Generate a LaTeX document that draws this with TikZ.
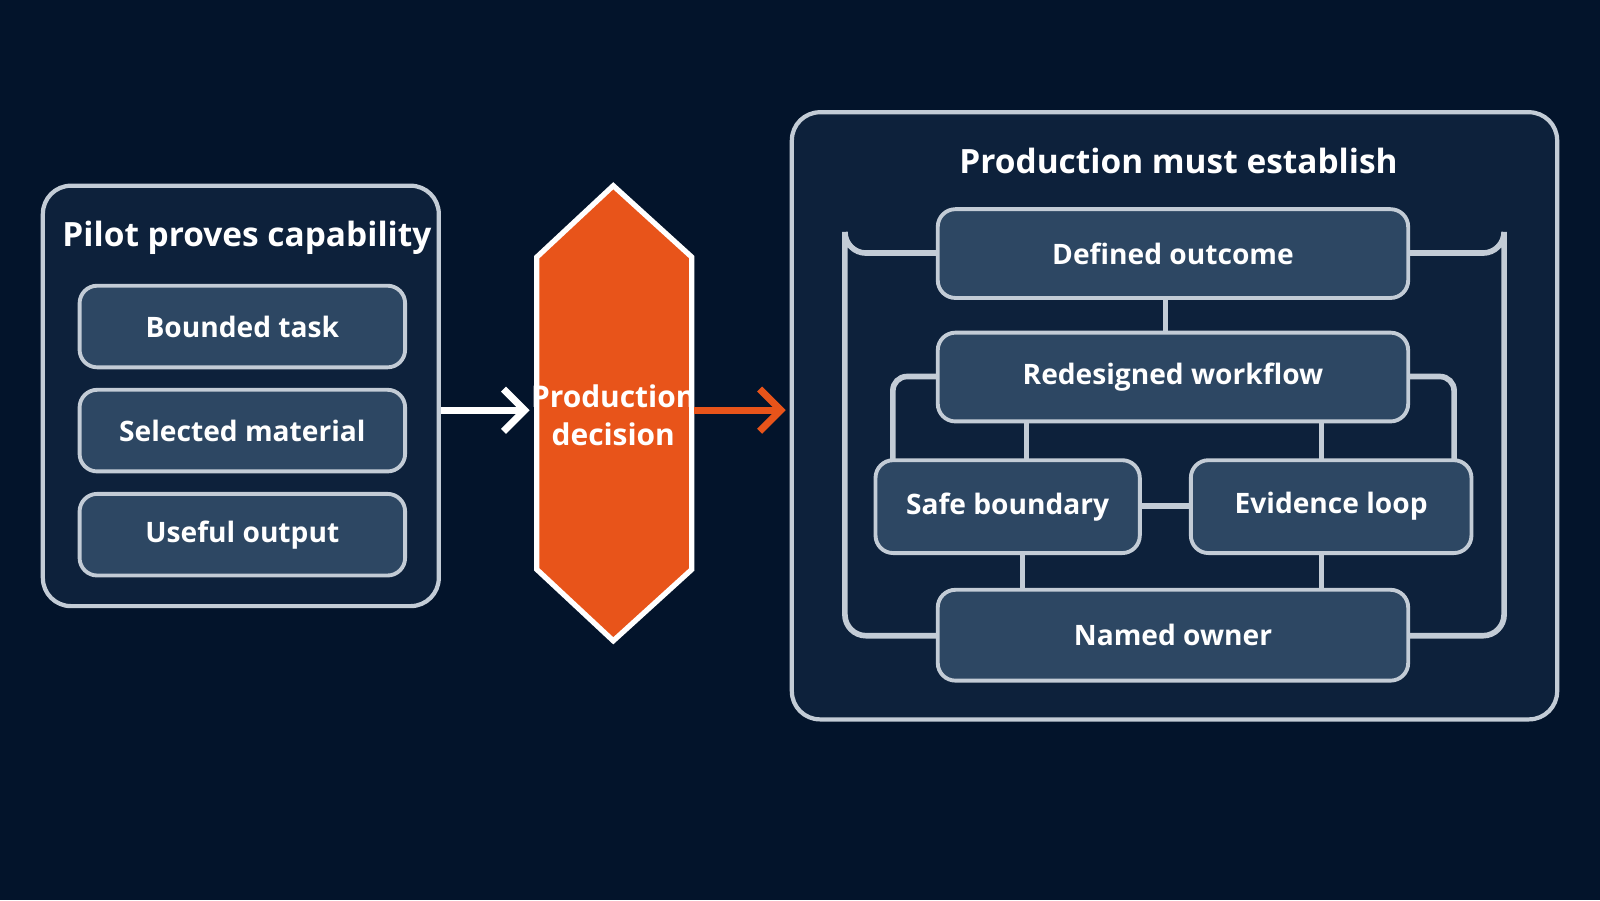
\documentclass[tikz,border=0pt]{standalone}
\usepackage{fontspec}
\setmainfont{Open Sans}
\usetikzlibrary{arrows.meta}
\definecolor{bg}{HTML}{03142B}
\definecolor{panel}{HTML}{0D213B}
\definecolor{boxf}{HTML}{2D4763}
\definecolor{edge}{HTML}{C3CCD6}
\definecolor{orng}{HTML}{E8541A}
\tikzset{
 panelbox/.style={draw=edge, line width=1.2pt, fill=panel, rounded corners=8pt},
 item/.style={draw=edge, line width=1.1pt, fill=boxf, rounded corners=5pt, text=white, font=\fontsize{8}{9}\selectfont\bfseries},
 title/.style={text=white, font=\fontsize{9.5}{11}\selectfont\bfseries},
 link/.style={draw=edge, line width=1.6pt},
}
\begin{document}
\begin{tikzpicture}[x=0.0102cm,y=-0.0102cm]
\fill[bg] (0,0) rectangle (1568,882);
\useasboundingbox (0,0) rectangle (1568,882);
% left panel
\draw[panelbox] (42,182) rectangle (430,594);
\node[title] (lt) at (242,233) {Pilot proves capability};
\node[item, minimum width={319*0.0102cm}, minimum height={80*0.0102cm}] (b1) at (237.5,320) {Bounded task};
\node[item, minimum width={319*0.0102cm}, minimum height={80*0.0102cm}] (b2) at (237.5,422) {Selected material};
\node[item, minimum width={319*0.0102cm}, minimum height={80*0.0102cm}] (b3) at (237.5,524) {Useful output};
\coordinate (lp) at (432,402);
% hexagon
\draw[fill=orng, draw=white, line width=1.5pt] (601,182) -- (678,252) -- (678,558) -- (601,628) -- (526,558) -- (526,252) -- cycle;
\node[text=white, font=\fontsize{8.5}{11}\selectfont\bfseries, align=center] (pd) at (601,407) {Production\\decision};
\coordinate (hl) at (519,402);
\coordinate (hr) at (680,402);
\coordinate (rp) at (770,402);
\draw[white, line width=2pt, -{Straight Barb[length=6pt,width=12pt]}] (lp) -- (hl);
\draw[orng, line width=2pt, -{Straight Barb[length=6pt,width=12pt]}] (hr) -- (rp);
% right panel
\draw[panelbox] (776,110) rectangle (1526,705);
\node[title] (rt) at (1155,158) {Production must establish};
% connectors first
\coordinate (L1) at (828,248); \coordinate (L2) at (828,623);
\coordinate (R1) at (1474,248); \coordinate (R2) at (1474,623);
\draw[link, rounded corners=6pt] (960,248) -| (L1) |- (960,623);
\draw[link, rounded corners=6pt] (1340,248) -| (R1) |- (1340,623);
\draw[link] (1142,260) -- (1142,360);
\draw[link, rounded corners=4pt] (960,369) -| (875,480);
\draw[link, rounded corners=4pt] (1340,369) -| (1425,480);
\draw[link] (1006,390) -- (1006,480);
\draw[link] (1295,390) -- (1295,480);
\draw[link] (1080,496) -- (1200,496);
\draw[link] (1002,520) -- (1002,600);
\draw[link] (1295,520) -- (1295,600);
\node[item, minimum width={461*0.0102cm}, minimum height={87*0.0102cm}] (d) at (1149.5,248.5) {Defined outcome};
\node[item, minimum width={461*0.0102cm}, minimum height={87*0.0102cm}] (r) at (1149.5,369.5) {Redesigned workflow};
\node[item, minimum width={259*0.0102cm}, minimum height={91*0.0102cm}] (s) at (987.5,496.5) {Safe boundary};
\node[item, minimum width={275*0.0102cm}, minimum height={91*0.0102cm}] (e) at (1304.5,496.5) {Evidence loop};
\node[item, minimum width={461*0.0102cm}, minimum height={89*0.0102cm}] (n) at (1149.5,622.5) {Named owner};
\end{tikzpicture}
\end{document}
